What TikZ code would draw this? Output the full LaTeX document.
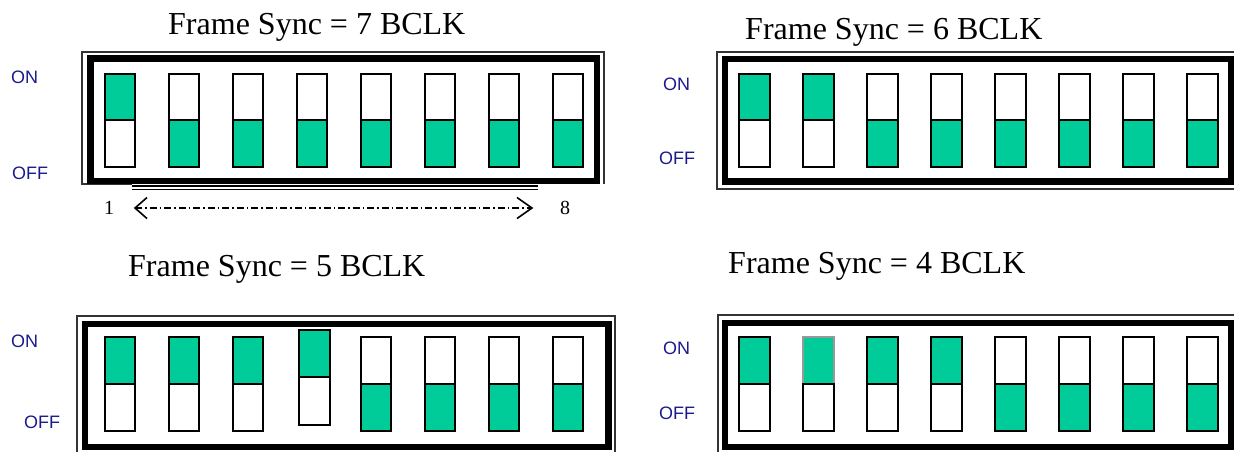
\documentclass[tikz,border=0pt]{standalone}
\usepackage{fontspec}
\setmainfont{Liberation Serif}
\newfontfamily\arialf{Liberation Sans}
\usetikzlibrary{arrows.meta}
\definecolor{swgreen}{RGB}{0,204,153}
\definecolor{lblblue}{RGB}{26,26,140}
\tikzset{
 titletext/.style={anchor=base west, inner sep=0pt, font=\fontsize{32}{36}\selectfont},
 onoff/.style={anchor=base west, inner sep=0pt, text=lblblue, font=\arialf\fontsize{18}{20}\selectfont},
 numtext/.style={anchor=base west, inner sep=0pt, font=\fontsize{20}{22}\selectfont},
 swhalf/.style={draw=black, line width=2pt},
 thickframe/.style={draw=black, line width=6.5pt},
 thinframe/.style={draw=black!80, line width=1.2pt},
 barbhead/.style={draw=black, line width=1.6pt, line join=miter},
}
\newcommand\swtch[6]{%
  \ifnum#6=1
    \filldraw[swhalf, fill=swgreen] (#1+1,#3+1) rectangle (#1+#2-1,#4);
    \filldraw[swhalf, fill=white] (#1+1,#4) rectangle (#1+#2-1,#5-1);
  \else
    \filldraw[swhalf, fill=white] (#1+1,#3+1) rectangle (#1+#2-1,#4);
    \filldraw[swhalf, fill=swgreen] (#1+1,#4) rectangle (#1+#2-1,#5-1);
  \fi}
\begin{document}
\begin{tikzpicture}[x=1pt,y=-1pt]
\useasboundingbox (0,0) rectangle (1234,451);
% ---------- Panel 1 ----------
\node[titletext] (t1) at (168,34) {Frame Sync = 7 BCLK};
\node[onoff] (on1) at (11,83) {ON};
\node[onoff] (off1) at (12,179) {OFF};
\draw[thinframe] (132,184) -- (82,184) -- (82,52) -- (604,52) -- (604,184);
\draw[thickframe] (90.5,58.5) rectangle (597,181);
\draw[black, line width=2.2pt] (132,186) -- (538,186);
\draw[black, line width=1.2pt] (132,189.5) -- (538,189.5);
\foreach \i in {1,...,8}{
  \pgfmathsetmacro\xx{104+64*(\i-1)}
  \pgfmathtruncatemacro\st{\i<=1}
  \swtch{\xx}{32}{73}{120}{168}{\st}
}
\node[numtext] (n1) at (104,214) {1};
\node[numtext] (n8) at (560,214) {8};
\coordinate (aL) at (135,208);
\coordinate (aR) at (532,208);
\draw[line width=1.3pt, dash pattern=on 7pt off 3pt on 1.5pt off 3pt] (aL) -- (aR);
\draw[barbhead] ([shift={(12,-10.5)}]aL) -- (aL) -- ([shift={(12,10.5)}]aL);
\draw[barbhead] ([shift={(-15,-10.5)}]aR) -- (aR) -- ([shift={(-15,10.5)}]aR);
% ---------- Panel 2 ----------
\node[titletext] (t2) at (745,39) {Frame Sync = 6 BCLK};
\node[onoff] (on2) at (663,90) {ON};
\node[onoff] (off2) at (659,164) {OFF};
\draw[thinframe] (1240,52) -- (717,52) -- (717,189) -- (1240,189);
\draw[thickframe] (725,59) rectangle (1231.5,181.5);
\foreach \i in {1,...,8}{
  \pgfmathsetmacro\xx{738+64*(\i-1)}
  \pgfmathtruncatemacro\st{\i<=2}
  \swtch{\xx}{33}{73}{120}{168}{\st}
}
% ---------- Panel 3 ----------
\node[titletext] (t3) at (128,276) {Frame Sync = 5 BCLK};
\node[onoff] (on3) at (11,347) {ON};
\node[onoff] (off3) at (24,428) {OFF};
\draw[thinframe] (77,460) -- (77,316) -- (615,316) -- (615,460);
\draw[thickframe] (85,324) rectangle (608.5,447);
\foreach \i in {1,2,3,5,6,7,8}{
  \pgfmathsetmacro\xx{104+64*(\i-1)}
  \pgfmathtruncatemacro\st{\i<=4}
  \swtch{\xx}{32}{336}{384}{432}{\st}
}
\swtch{298}{33}{329}{377}{426}{1}
% ---------- Panel 4 ----------
\node[titletext] (t4) at (728,273) {Frame Sync = 4 BCLK};
\node[onoff] (on4) at (663,354) {ON};
\node[onoff] (off4) at (659,419) {OFF};
\draw[thinframe] (1240,315) -- (718,315) -- (718,460);
\draw[thickframe] (725,323) rectangle (1231.5,447);
\foreach \i in {1,3,4,5,6,7,8}{
  \pgfmathsetmacro\xx{738+64*(\i-1)}
  \pgfmathtruncatemacro\st{\i<=4}
  \swtch{\xx}{33}{336}{384}{432}{\st}
}
\filldraw[draw=black!40, line width=1.5pt, fill=swgreen] (803,337) rectangle (834,384);
\filldraw[swhalf, fill=white] (803,384) rectangle (834,431);
\end{tikzpicture}
\end{document}
